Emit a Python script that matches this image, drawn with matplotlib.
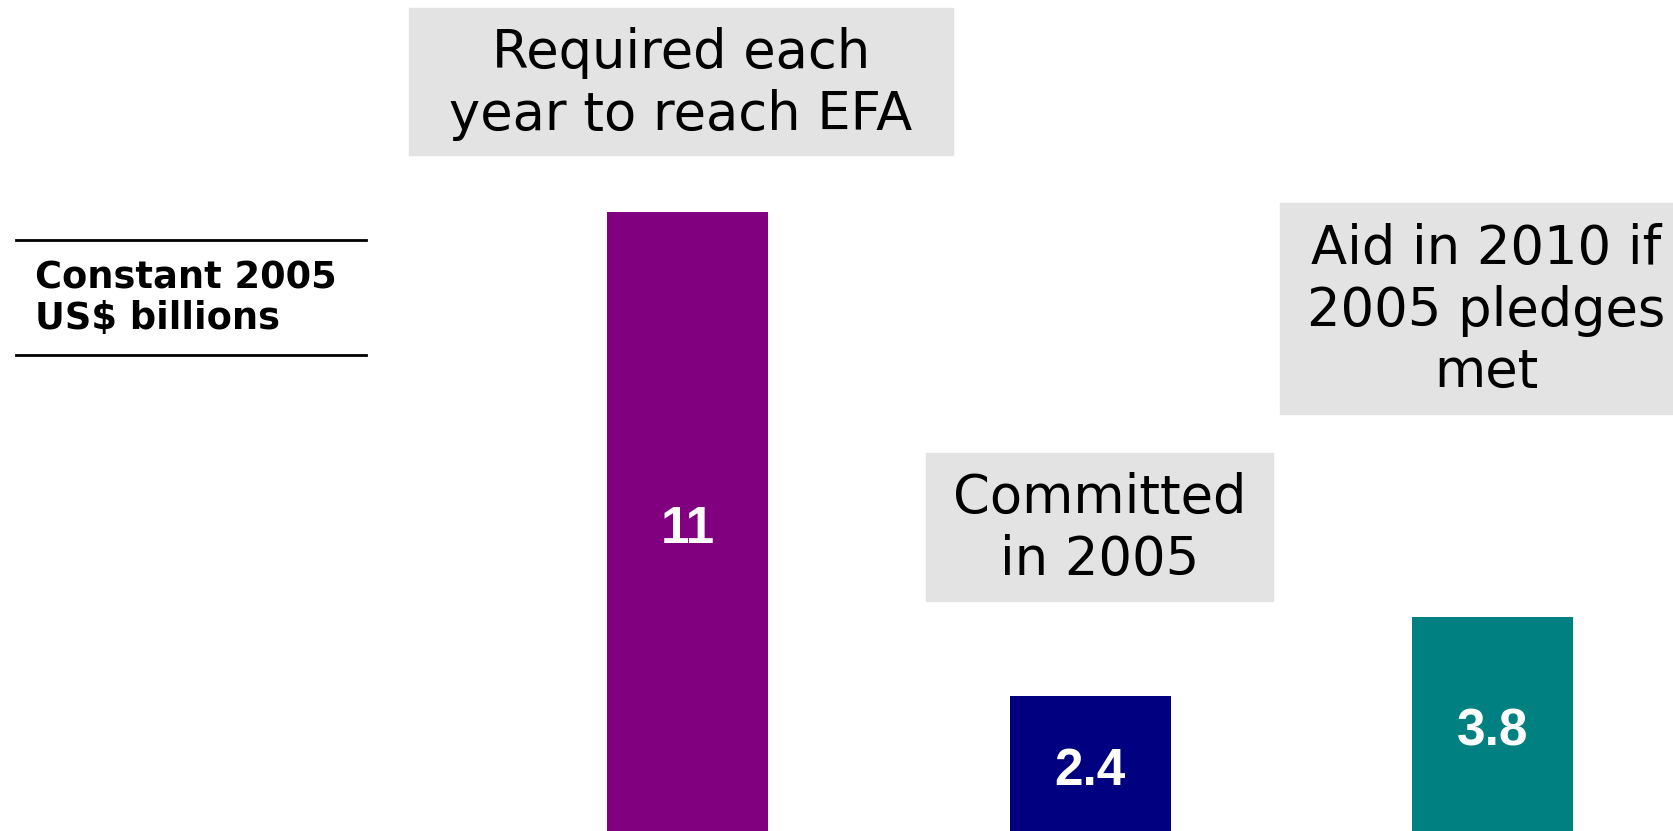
import matplotlib
matplotlib.use("Agg")
import matplotlib.pyplot as plt
from matplotlib.patches import Rectangle

# data
categories = ["Required each\nyear to reach EFA", "Committed\nin 2005",
              "Aid in 2010 if\n2005 pledges\nmet"]
values = [11, 2.4, 3.8]
value_labels = ["11", "2.4", "3.8"]
colors = ["#800080", "#000080", "#008080"]

W, H = 1674, 831
fig = plt.figure(figsize=(W / 100, H / 100), dpi=100)
ax = fig.add_axes([0, 0, 1, 1])
ax.set_axis_off()

xs = range(len(values))
ax.bar(xs, values, width=0.40, color=colors, zorder=2)
ax.set_xlim(-1.709, 2.450)
ax.set_ylim(0, 14.76)

for x, v, lab in zip(xs, values, value_labels):
    ax.text(x, v / 2 - 0.15, lab, ha="center", va="center", color="white",
            fontsize=37, fontweight="bold", family="Liberation Sans")

# grey label boxes (pixel boxes: left, top, right, bottom) and text centres
boxes = [(409, 8, 953, 155), (926, 453, 1273, 601), (1280, 203, 1700, 414)]
centres = [(681, 84), (1100, 529), (1486, 311)]
for (l, t, r, b), (cx, cy), txt in zip(boxes, centres, categories):
    fig.patches.append(Rectangle((l / W, 1 - b / H), (r - l) / W, (b - t) / H,
                                 transform=fig.transFigure, color="#e3e3e3",
                                 zorder=0))
    fig.text(cx / W, 1 - cy / H, txt, ha="center", va="center",
             fontsize=38, family="DejaVu Sans", linespacing=1.25)

# unit label with rules above and below
fig.add_artist(plt.Line2D([16 / W, 366 / W], [1 - 240 / H] * 2, color="black", lw=2))
fig.add_artist(plt.Line2D([16 / W, 366 / W], [1 - 355 / H] * 2, color="black", lw=2))
fig.text(35 / W, 1 - 298 / H, "Constant 2005\nUS$ billions", ha="left",
         va="center", fontsize=26.5, fontweight="bold", family="DejaVu Sans",
         linespacing=1.12)

fig.savefig("out.png", dpi=100)
